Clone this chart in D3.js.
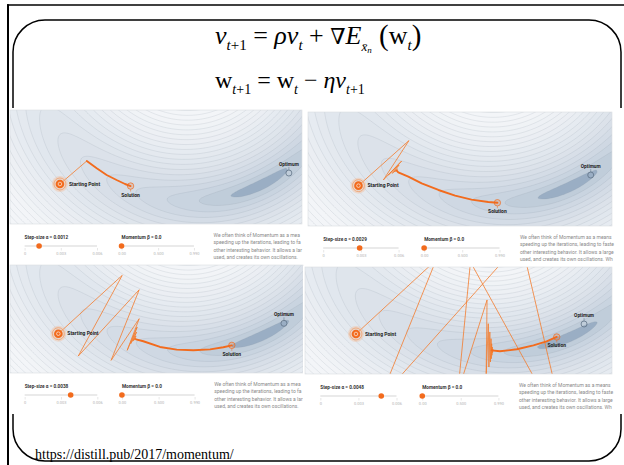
<!DOCTYPE html>
<html><head><meta charset="utf-8">
<script src="https://cdn.jsdelivr.net/npm/d3@7"></script>
<style>
html,body{margin:0;padding:0;background:#fff;}
svg{display:block;}
text{white-space:pre;}
</style></head>
<body>
<svg id="c" width="624" height="465"></svg>
<script>
// ---------- data ----------
const stepSizes = [0.0012, 0.0029, 0.0038, 0.0048];
const momenta = [0.0, 0.0, 0.0, 0.0];
const stepTicks = [0, 0.003, 0.006];
const stepTickLabels = ["0", "0.003", "0.006"];
const momentumTicks = [0, 0.5, 0.99];
const momentumTickLabels = ["0.00", "0.500", "0.990"];
// optimum location in each view, percent of width / height
const optima = [[95.5, 55.3], [93.0, 55.3], [93.5, 54.0], [90.9, 53.3]];
// iterates in percent-of-view coordinates: the oscillating start and the settled tail
const oscillation1 = [[17.1, 64.9], [26.3, 44.7]];
const tail1 = [[26.3, 44.7], [29.7, 51.1], [33.1, 57.0], [36.5, 61.4], [39.4, 64.9], [41.3, 66.7]];
const oscillation2 = [[16.6, 64.6], [33.2, 25.1], [24.8, 59.6], [30.8, 43.0], [26.4, 55.3], [30.0, 46.5], [27.7, 53.8], [29.5, 50.0], [28.4, 52.3], [29.2, 51.5]];
const tail2 = [[29.2, 51.5], [29.7, 52.9], [33.0, 56.7], [37.4, 62.6], [42.9, 68.4], [48.4, 73.4], [53.8, 76.9], [59.3, 78.9], [62.3, 79.6]];
const oscillation3 = [[16.5, 63.6], [38.3, 9.6], [23.3, 84.3], [44.1, 22.9], [34.5, 88.3], [44.1, 49.7], [40.0, 79.0], [43.4, 57.4], [41.2, 72.9], [43.2, 62.0], [41.9, 70.6], [43.0, 65.7], [42.3, 69.7], [42.8, 67.6], [43.0, 68.8]];
const tail3 = [[43.0, 68.8], [45.5, 70.6], [51.2, 75.9], [56.9, 78.4], [62.6, 79.0], [68.3, 78.1], [72.8, 76.2], [75.7, 74.4]];
const oscillation4 = [[16.6, 62.6], [42.7, -6.5], [24.4, 123.4], [70.4, -24.3], [85.3, 158.9], [53.9, -4.7], [49.8, 116.8], [59.3, 30.8], [59.0, 102.8], [59.7, 53.0], [59.9, 93.5], [60.2, 60.7], [60.4, 88.8], [60.6, 67.0], [60.7, 85.7], [60.8, 71.7], [60.9, 82.5], [61.0, 74.8], [61.1, 80.1], [61.2, 76.9], [61.3, 78.5], [60.8, 77.9]];
const tail4 = [[60.8, 77.9], [63.5, 78.8], [69.0, 76.9], [74.4, 73.2], [78.7, 69.5], [82.0, 65.4]];
const oscillations = [oscillation1, oscillation2, oscillation3, oscillation4];
const tails = [tail1, tail2, tail3, tail4];
const paragraphLines = [
  "We often think of Momentum as a means of dampening oscillations and",
  "speeding up the iterations, leading to faster convergence. But it has",
  "other interesting behavior. It allows a larger range of step-sizes to be",
  "used, and creates its own oscillations. What is going on?"
];
const contourLevels = d3.range(0.6, 30, 0.6);

// ---------- layout ----------
const panels = [
  {x: 10, y: 110, w: 292, h: 114, bg: [10, 108, 305, 265], textRight: 302},
  {x: 308, y: 112, w: 304, h: 114, bg: [305, 108, 624, 266], textRight: 615},
  {x: 10, y: 265, w: 293, h: 108, bg: [10, 265, 303, 414], textRight: 303},
  {x: 305, y: 267, w: 307, h: 107, bg: [303, 266, 624, 414], textRight: 614}
];
const ORANGE = "#f26b1d";
const SANS = "Roboto, 'Noto Sans', sans-serif";
const SERIF = "'Liberation Serif', 'Times New Roman', serif";

// loss surface: a curved valley (arc) whose floor descends toward the optimum
function loss(X, Y) {
  const dx = X - 181, dy = Y + 69.4;
  const r = Math.hypot(dx, dy);
  const th = Math.atan2(dx, dy);
  const a = (r - 160.4) / 8, b = (th - 0.45) * 3;
  return Math.sqrt(a * a + b * b);
}
const shade = d3.scaleSequential(t => d3.interpolateRgb("#9aaec4", "#f3f5f8")(Math.pow(t, 0.3)))
  .domain([0, 10]).clamp(true);

const svg = d3.select("#c");
const defs = svg.append("defs");
svg.append("rect").attr("width", 624).attr("height", 465).attr("fill", "#fff");

// slide frame
svg.append("line").attr("x1", 7).attr("y1", 5).attr("x2", 624).attr("y2", 5)
  .attr("stroke", "#000").attr("stroke-width", 1.5);
svg.append("line").attr("x1", 8).attr("y1", 4.3).attr("x2", 8).attr("y2", 465)
  .attr("stroke", "#000").attr("stroke-width", 2);
svg.append("rect").attr("x", 13).attr("y", 20).attr("width", 608).attr("height", 441)
  .attr("rx", 32).attr("fill", "none").attr("stroke", "#000").attr("stroke-width", 1.5);

// update equations
function eqLine(x, y, size, parts) {
  const t = svg.append("text").attr("x", x).attr("y", y)
    .attr("font-family", SERIF).attr("fill", "#000");
  let base = 0;
  parts.forEach(p => {
    const s = t.append("tspan").text(p.t).attr("font-size", p.s || size);
    if (p.i) s.attr("font-style", "italic");
    if (p.f) s.attr("font-family", p.f);
    const off = p.o || 0;
    if (off !== base) { s.attr("dy", off - base); base = off; }
  });
  return t;
}
eqLine(215, 44, 26, [
  {t: "v", i: 1}, {t: "t", i: 1, s: 15, o: 6}, {t: "+1", s: 15, o: 6},
  {t: " = ", o: 0}, {t: "ρv", i: 1}, {t: "t", i: 1, s: 15, o: 6},
  {t: " + ", o: 0}, {t: "∇", f: "'DejaVu Serif', serif", s: 22}, {t: "E", i: 1},
  {t: "x̄", i: 1, s: 13, o: 7}, {t: "n", i: 1, s: 9, o: 9},
  {t: " (", s: 29, o: 1}, {t: "w", o: 0}, {t: "t", i: 1, s: 15, o: 6}, {t: ")", s: 29, o: 1}
]);
eqLine(215, 88, 24, [
  {t: "w"}, {t: "t", i: 1, s: 14, o: 6}, {t: "+1", s: 14, o: 6},
  {t: " = w", o: 0}, {t: "t", i: 1, s: 14, o: 6},
  {t: " − ", o: 0}, {t: "ηv", i: 1}, {t: "t", i: 1, s: 14, o: 6}, {t: "+1", s: 14, o: 6}
]);

// four optimizer views
panels.forEach((P, k) => {
  const g = svg.append("g");
  g.append("rect").attr("x", P.bg[0]).attr("y", P.bg[1])
    .attr("width", P.bg[2] - P.bg[0]).attr("height", P.bg[3] - P.bg[1]).attr("fill", "#fff");

  const x = d3.scaleLinear().domain([0, 100]).range([P.x, P.x + P.w]);
  const y = d3.scaleLinear().domain([0, 100]).range([P.y, P.y + P.h]);

  const clipId = "map" + k;
  defs.append("clipPath").attr("id", clipId).append("rect")
    .attr("x", P.x).attr("y", P.y).attr("width", P.w).attr("height", P.h);
  const map = g.append("g").attr("clip-path", `url(#${clipId})`);

  // loss contours
  const cell = 2, pad = 3;
  const nx = Math.ceil(P.w / cell) + 2 * pad, ny = Math.ceil(P.h / cell) + 2 * pad;
  const vals = new Float64Array(nx * ny);
  for (let j = 0; j < ny; j++) {
    for (let i = 0; i < nx; i++) {
      const u = x.invert(P.x + (i - pad) * cell), v = y.invert(P.y + (j - pad) * cell);
      vals[j * nx + i] = loss(u * 2.92, v * 1.14);
    }
  }
  const bands = d3.contours().size([nx, ny]).thresholds(contourLevels)(vals);
  const geo = d3.geoPath(d3.geoIdentity().scale(cell)
    .translate([P.x - (pad + 0.5) * cell, P.y - (pad + 0.5) * cell]));
  map.append("rect").attr("x", P.x).attr("y", P.y).attr("width", P.w).attr("height", P.h)
    .attr("fill", shade(0));
  map.selectAll("path.band").data(bands).join("path").attr("class", "band")
    .attr("d", geo).attr("fill", d => shade(d.value))
    .attr("stroke", "#7f8d9b").attr("stroke-opacity", 0.25).attr("stroke-width", 0.6);

  // iterates
  const line = d3.line().x(d => x(d[0])).y(d => y(d[1]));
  map.append("path").attr("d", line(oscillations[k])).attr("fill", "none")
    .attr("stroke", "#f47b2c").attr("stroke-width", 0.8).attr("stroke-linejoin", "round");
  map.append("path").attr("d", line(tails[k])).attr("fill", "none")
    .attr("stroke", ORANGE).attr("stroke-width", 1.9).attr("stroke-linecap", "round")
    .attr("stroke-linejoin", "round");

  g.append("rect").attr("x", P.x).attr("y", P.y).attr("width", P.w).attr("height", P.h)
    .attr("fill", "none").attr("stroke", "#d9dde2").attr("stroke-width", 0.6);

  // optimum
  const opt = optima[k];
  const ox = x(opt[0]), oy = y(opt[1]);
  g.append("circle").attr("cx", ox).attr("cy", oy).attr("r", 3)
    .attr("fill", "none").attr("stroke", "#5f7287").attr("stroke-width", 0.8);
  g.append("line").attr("x1", ox).attr("x2", ox).attr("y1", oy - 3).attr("y2", oy - 6)
    .attr("stroke", "#5f7287").attr("stroke-width", 0.5);
  g.append("text").attr("x", ox).attr("y", oy - 7.5).attr("text-anchor", "middle")
    .attr("font-family", SANS).attr("font-weight", 700).attr("font-size", 4.8)
    .attr("fill", "#222").text("Optimum");

  // starting point
  const s0 = oscillations[k][0];
  const sx = x(s0[0]), sy = y(s0[1]);
  g.append("circle").attr("cx", sx).attr("cy", sy).attr("r", 8).attr("fill", "#f7b58a").attr("fill-opacity", 0.35);
  g.append("circle").attr("cx", sx).attr("cy", sy).attr("r", 6).attr("fill", "none")
    .attr("stroke", "#f29a5f").attr("stroke-width", 0.7);
  g.append("circle").attr("cx", sx).attr("cy", sy).attr("r", 4.3).attr("fill", ORANGE);
  g.append("circle").attr("cx", sx).attr("cy", sy).attr("r", 1.8).attr("fill", "none")
    .attr("stroke", "#fff").attr("stroke-width", 0.6);
  g.append("text").attr("x", sx + 9).attr("y", sy + 1.8)
    .attr("font-family", SANS).attr("font-weight", 700).attr("font-size", 5)
    .attr("fill", "#222").text("Starting Point");

  // solution
  const tl = tails[k][tails[k].length - 1];
  const tx = x(tl[0]), ty = y(tl[1]);
  g.append("circle").attr("cx", tx).attr("cy", ty).attr("r", 3.2)
    .attr("fill", ORANGE).attr("fill-opacity", 0.2).attr("stroke", ORANGE).attr("stroke-width", 0.7);
  g.append("line").attr("x1", tx).attr("x2", tx).attr("y1", ty + 3.2).attr("y2", ty + 5.5)
    .attr("stroke", ORANGE).attr("stroke-width", 0.5);
  g.append("text").attr("x", tx).attr("y", ty + 10.5).attr("text-anchor", "middle")
    .attr("font-family", SANS).attr("font-weight", 700).attr("font-size", 5)
    .attr("fill", "#222").text("Solution");

  // controls
  const base = P.y + P.h;
  const yT = base + 22;
  const sliders = [
    {x0: P.x + 0.05 * P.w, x1: P.x + 0.298 * P.w, dom: [0, 0.006], ticks: stepTicks, labels: stepTickLabels,
     value: stepSizes[k], title: "Step-size α = " + stepSizes[k].toFixed(4)},
    {x0: P.x + 0.382 * P.w, x1: P.x + 0.63 * P.w, dom: [0, 0.99], ticks: momentumTicks, labels: momentumTickLabels,
     value: momenta[k], title: "Momentum β = " + momenta[k].toFixed(1)}
  ];
  sliders.forEach(S => {
    const sc = d3.scaleLinear().domain(S.dom).range([S.x0, S.x1]);
    g.append("text").attr("x", S.x0).attr("y", yT - 7.5)
      .attr("font-family", SANS).attr("font-weight", 700).attr("font-size", 4.7)
      .attr("fill", "#333").text(S.title);
    g.append("line").attr("x1", S.x0).attr("x2", S.x1).attr("y1", yT).attr("y2", yT)
      .attr("stroke", "#e3e3e3").attr("stroke-width", 1.4);
    const ax = g.append("g").attr("transform", `translate(0,${yT + 2})`)
      .call(d3.axisBottom(sc).tickValues(S.ticks).tickFormat((d, i) => S.labels[i])
        .tickSize(2.5).tickPadding(1.5));
    ax.select(".domain").remove();
    ax.selectAll(".tick line").attr("stroke", "#cfcfcf").attr("stroke-width", 0.5);
    ax.selectAll(".tick text").attr("font-family", SANS).attr("font-size", 4)
      .attr("fill", "#b3b3b3");
    g.append("circle").attr("cx", sc(S.value)).attr("cy", yT).attr("r", 2.8).attr("fill", ORANGE);
  });

  // description text, cut where the view's edge ends it
  const px = P.x + 0.697 * P.w;
  const avail = P.textRight - px;
  g.selectAll("text.para").data(paragraphLines).join("text").attr("class", "para")
    .attr("x", px).attr("y", (d, i) => base + 12.5 + i * 7.6)
    .attr("font-family", SANS).attr("font-size", 5).attr("fill", "#8a8a8a").text(d => d)
    .each(function (d) {
      let s = d;
      while (s.length > 1 && this.getComputedTextLength() > avail) {
        s = s.slice(0, -1);
        this.textContent = s;
      }
    });
});

// source
svg.append("text").attr("x", 35).attr("y", 459).attr("font-family", SERIF)
  .attr("font-size", 14).attr("fill", "#000").text("https://distill.pub/2017/momentum/");
</script>
</body></html>
